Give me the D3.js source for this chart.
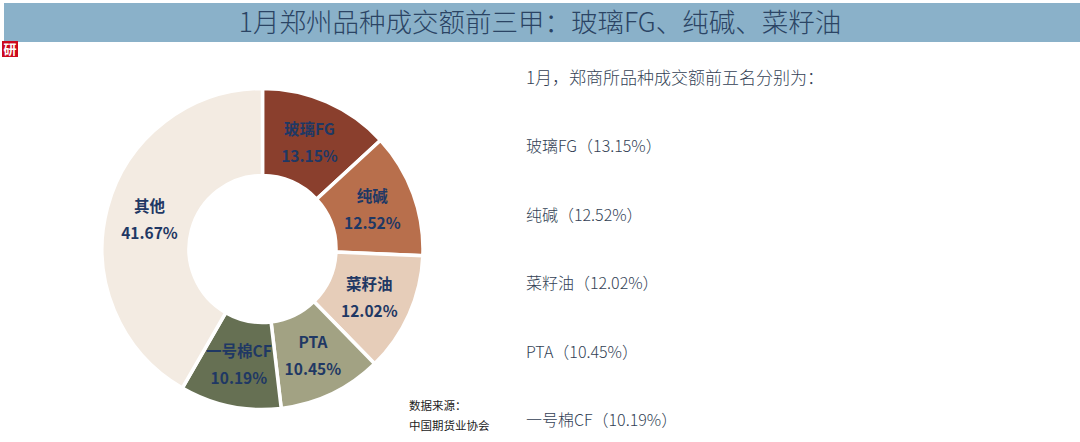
<!DOCTYPE html>
<html>
<head>
<meta charset="utf-8">
<script src="https://cdn.jsdelivr.net/npm/d3@7"></script>
<style>
  html, body { margin: 0; padding: 0; background: #fff; }
  svg { display: block; }
  text { font-family: "Noto Sans CJK SC", "Noto Sans", sans-serif; }
</style>
</head>
<body>
<div id="vis"></div>
<script>
const titleText = "1月郑州品种成交额前三甲：玻璃FG、纯碱、菜籽油"
const categories = ["玻璃FG", "纯碱", "菜籽油", "PTA", "一号棉CF", "其他"]
const shares = [13.15, 12.52, 12.02, 10.45, 10.19, 41.67]
const sliceColors = ["#8a3f2d", "#b86f4c", "#e6cdb9", "#a2a283", "#667053", "#f3ebe2"]
const introText = "1月，郑商所品种成交额前五名分别为："
const sideLabels = ["玻璃FG（13.15%）", "纯碱（12.52%）", "菜籽油（12.02%）", "PTA（10.45%）", "一号棉CF（10.19%）"]
const sourceLines = ["数据来源：", "中国期货业协会"]

const width = 1080, height = 442
const navy = "#1f3864"

const svg = d3.select("#vis").append("svg").attr("width", width).attr("height", height)

// title band
svg.append("rect").attr("x", 4).attr("y", 3).attr("width", width - 4).attr("height", 39).attr("fill", "#8ab1c9")
svg.append("text").attr("x", 540).attr("y", 32).attr("text-anchor", "middle")
    .attr("font-size", 26.5).attr("font-weight", 300).attr("fill", "#2b4464").text(titleText)

// little red logo
svg.append("rect").attr("x", 2).attr("y", 41).attr("width", 16).attr("height", 16).attr("fill", "#cc0a1e")
svg.append("text").attr("x", 10).attr("y", 54).attr("text-anchor", "middle")
    .attr("font-size", 13).attr("font-weight", 700).attr("fill", "#fff").text("研")

// donut
const pie = d3.pie().sort(null).value(d => d)
const arc = d3.arc().innerRadius(73.5).outerRadius(160.5)
const slices = pie(shares)
const donut = svg.append("g").attr("transform", "translate(262.5,249)")

donut.selectAll("path").data(slices).enter().append("path")
    .attr("d", arc)
    .attr("fill", (d, i) => sliceColors[i])
    .attr("stroke", "#fff")
    .attr("stroke-width", 3.5)

const labels = donut.selectAll("g.label").data(slices).enter().append("g")
    .attr("class", "label")
    .attr("transform", d => "translate(" + arc.centroid(d) + ")")

labels.append("text").attr("text-anchor", "middle").attr("y", -7)
    .attr("font-size", 15.5).attr("font-weight", 700).attr("fill", navy)
    .text((d, i) => categories[i])
labels.append("text").attr("text-anchor", "middle").attr("y", 20)
    .attr("font-size", 15.5).attr("font-weight", 700).attr("fill", navy)
    .text(d => d.value.toFixed(2) + "%")

// right hand list, the intro line runs a bit larger than the rows
const listY = d3.scalePoint().domain(d3.range(sideLabels.length + 1)).range([84, 426])
svg.selectAll("text.side").data([introText].concat(sideLabels)).enter().append("text")
    .attr("class", "side")
    .attr("x", 526)
    .attr("y", (d, i) => listY(i))
    .attr("font-size", (d, i) => i === 0 ? 17 : 16)
    .attr("font-weight", 300).attr("fill", "#333f55")
    .text(d => d)

// source note
svg.selectAll("text.source").data(sourceLines).enter().append("text")
    .attr("class", "source")
    .attr("x", 409)
    .attr("y", (d, i) => 410 + i * 20)
    .attr("font-size", 11.5).attr("fill", "#222")
    .text(d => d)
</script>
</body>
</html>
